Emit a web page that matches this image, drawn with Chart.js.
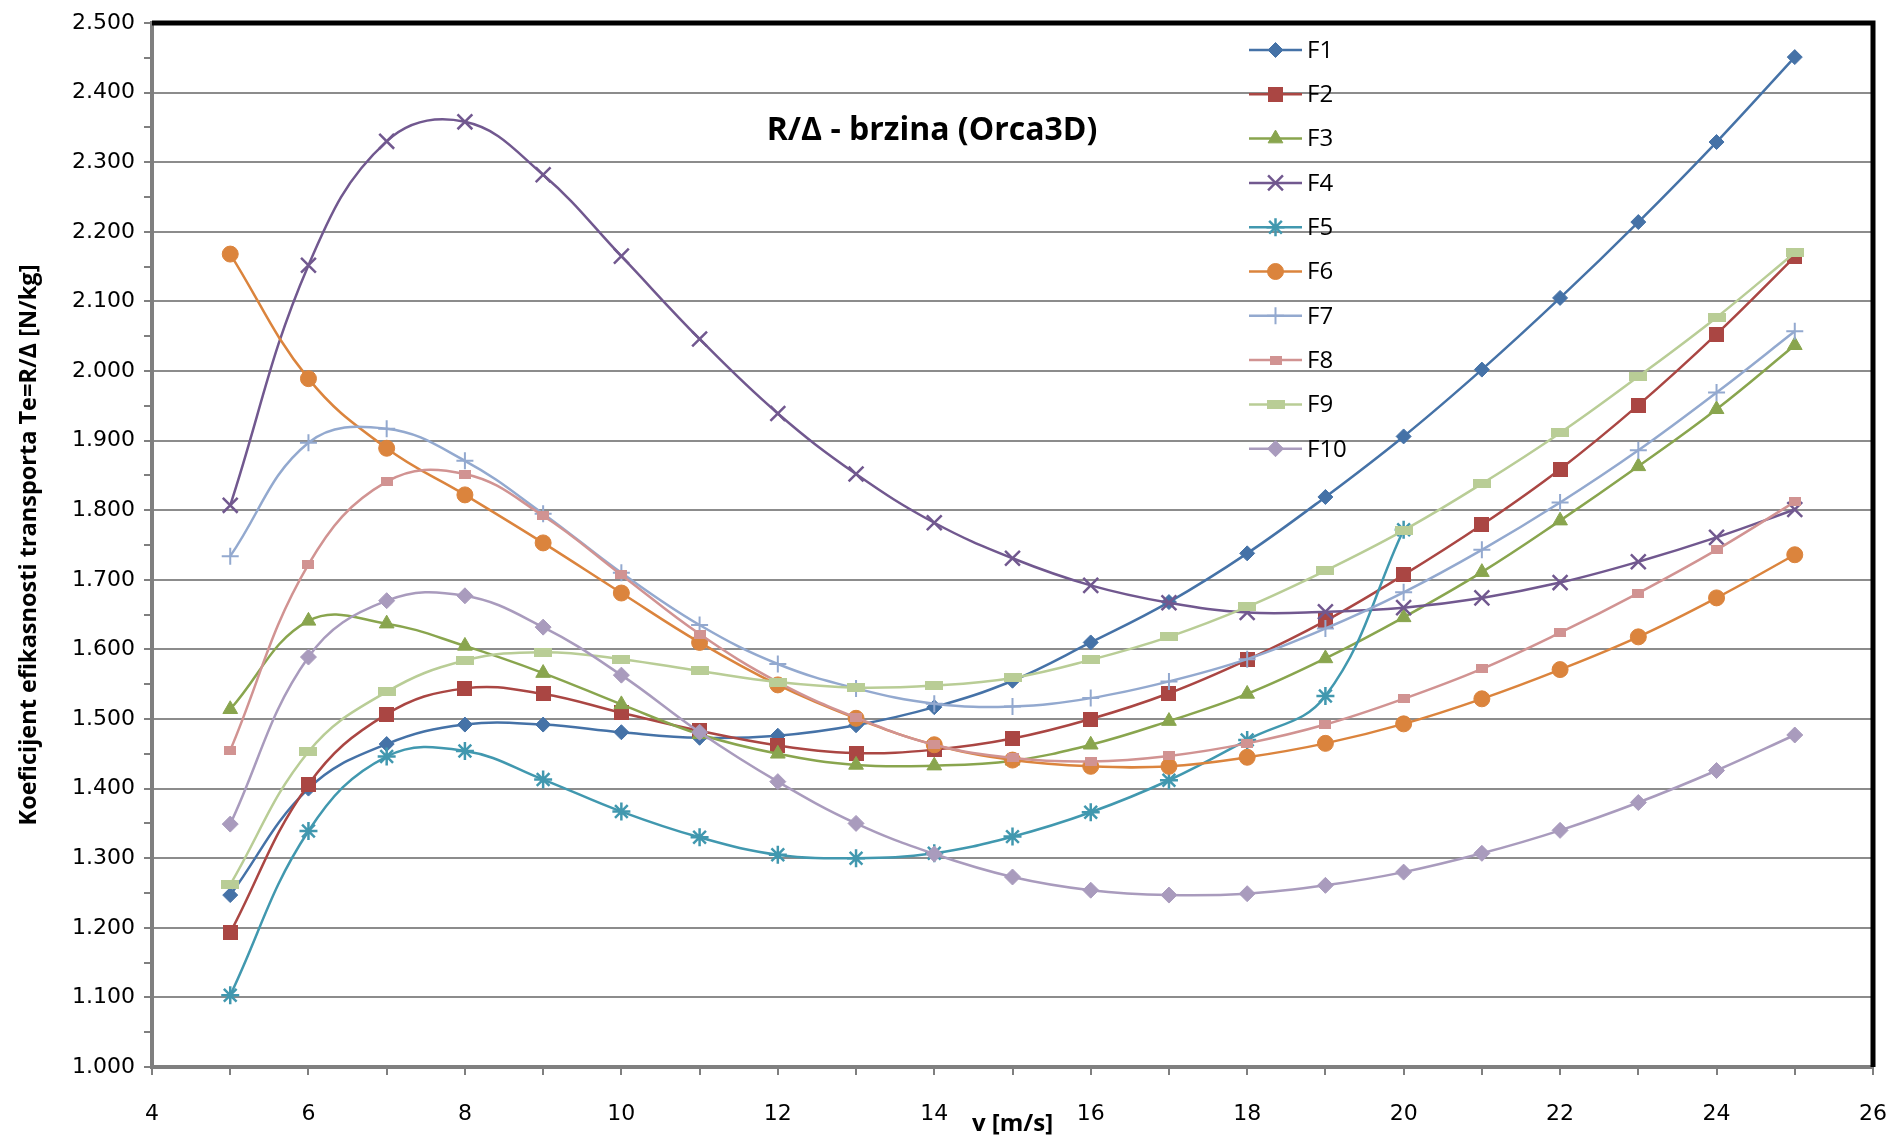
<!DOCTYPE html>
<html>
<head>
<meta charset="utf-8">
<title>R/Δ - brzina (Orca3D)</title>
<script src="https://cdn.jsdelivr.net/npm/chart.js@4.4.1/dist/chart.umd.min.js"></script>
<style>
  html, body { margin: 0; padding: 0; background: #fff; }
  #wrap { width: 1892px; height: 1141px; }
</style>
</head>
<body>
<div id="wrap"><canvas id="chart" width="1892" height="1141"></canvas></div>
<script>
// speed [m/s]
const speeds = [5, 6, 7, 8, 9, 10, 11, 12, 13, 14, 15, 16, 17, 18, 19, 20, 21, 22, 23, 24, 25];

// R/Δ [N/kg] per hull form
const f1  = [1.247, 1.400, 1.464, 1.492, 1.492, 1.481, 1.473, 1.476, 1.491, 1.517, 1.555, 1.610, 1.668, 1.738, 1.819, 1.906, 2.002, 2.105, 2.214, 2.329, 2.451];
const f2  = [1.193, 1.406, 1.507, 1.544, 1.536, 1.509, 1.483, 1.462, 1.451, 1.456, 1.472, 1.500, 1.537, 1.585, 1.641, 1.707, 1.779, 1.859, 1.951, 2.053, 2.164];
const f3  = [1.514, 1.641, 1.637, 1.605, 1.566, 1.521, 1.478, 1.450, 1.434, 1.433, 1.440, 1.463, 1.497, 1.536, 1.587, 1.646, 1.711, 1.785, 1.863, 1.945, 2.037];
const f4  = [1.807, 2.152, 2.330, 2.358, 2.282, 2.165, 2.046, 1.939, 1.852, 1.782, 1.731, 1.692, 1.667, 1.653, 1.654, 1.660, 1.674, 1.696, 1.726, 1.761, 1.801];
const f5  = [1.103, 1.339, 1.446, 1.454, 1.413, 1.367, 1.330, 1.305, 1.300, 1.307, 1.331, 1.366, 1.412, 1.470, 1.533, 1.772];
const f6  = [2.168, 1.989, 1.889, 1.822, 1.753, 1.681, 1.610, 1.549, 1.501, 1.463, 1.441, 1.432, 1.432, 1.445, 1.465, 1.493, 1.529, 1.571, 1.618, 1.674, 1.736];
const f7  = [1.734, 1.897, 1.917, 1.871, 1.795, 1.710, 1.635, 1.579, 1.544, 1.522, 1.518, 1.530, 1.554, 1.586, 1.630, 1.682, 1.743, 1.811, 1.886, 1.969, 2.057];
const f8  = [1.455, 1.722, 1.841, 1.852, 1.792, 1.707, 1.622, 1.553, 1.502, 1.463, 1.444, 1.439, 1.447, 1.465, 1.492, 1.529, 1.572, 1.624, 1.681, 1.743, 1.812];
const f9  = [1.262, 1.453, 1.539, 1.584, 1.596, 1.586, 1.569, 1.553, 1.545, 1.548, 1.559, 1.585, 1.618, 1.661, 1.713, 1.771, 1.838, 1.911, 1.992, 2.077, 2.170];
const f10 = [1.349, 1.589, 1.670, 1.677, 1.632, 1.563, 1.481, 1.410, 1.350, 1.306, 1.273, 1.254, 1.247, 1.249, 1.261, 1.280, 1.307, 1.340, 1.380, 1.426, 1.477];

const seriesNames = ['F1', 'F2', 'F3', 'F4', 'F5', 'F6', 'F7', 'F8', 'F9', 'F10'];
const seriesValues = [f1, f2, f3, f4, f5, f6, f7, f8, f9, f10];
const colors = ['#4572A7', '#AA4643', '#89A54E', '#71588F', '#4198AF',
                '#DB843D', '#93A9CF', '#D19392', '#B9CD96', '#A99BBD'];

const chartTitle = 'R/Δ - brzina (Orca3D)';
const xTitle = 'v [m/s]';
const yTitle = 'Koeficijent efikasnosti transporta Te=R/Δ [N/kg]';

// rectangle markers (Excel squares / flat bars)
function boxMarker(w, h, color) {
  const c = document.createElement('canvas');
  c.width = w; c.height = h;
  const g = c.getContext('2d');
  g.fillStyle = color;
  g.fillRect(0, 0, w, h);
  return c;
}

const markers = [
  { style: 'rectRot', r: 7.5, bw: 1 },
  { style: boxMarker(15, 15, colors[1]), r: 8, bw: 0 },
  { style: 'triangle', r: 8.5, bw: 1 },
  { style: 'crossRot', r: 10.5, bw: 2.5 },
  { style: 'star', r: 9, bw: 2.5 },
  { style: 'circle', r: 8, bw: 1 },
  { style: 'cross', r: 8.5, bw: 2 },
  { style: boxMarker(12, 9, colors[7]), r: 6, bw: 0 },
  { style: boxMarker(18, 9, colors[8]), r: 6, bw: 0 },
  { style: 'rectRot', r: 8, bw: 1 }
];

const datasets = seriesValues.map((vals, i) => ({
  label: seriesNames[i],
  data: vals.map((v, k) => ({ x: speeds[k], y: v })),
  borderColor: colors[i],
  backgroundColor: colors[i],
  borderWidth: 2.5,
  tension: 0.4,
  pointStyle: markers[i].style,
  pointRadius: markers[i].r,
  pointHoverRadius: markers[i].r,
  pointBorderWidth: markers[i].bw,
  pointBackgroundColor: colors[i],
  pointBorderColor: colors[i],
  order: -i
}));

const isMajor = v => Math.abs(Math.round(v * 10) - v * 10) < 1e-6;

// title inside the plot, legend at the right, black frame on top/right
const decorations = {
  id: 'decorations',
  afterDraw(chart) {
    const { ctx, chartArea } = chart;
    ctx.save();

    ctx.strokeStyle = '#000';
    ctx.lineWidth = 5;
    ctx.beginPath();
    ctx.moveTo(chartArea.left, chartArea.top);
    ctx.lineTo(chartArea.right, chartArea.top);
    ctx.lineTo(chartArea.right, chartArea.bottom);
    ctx.stroke();

    ctx.fillStyle = '#000';
    ctx.font = 'bold 32px "Open Sans"';
    ctx.textAlign = 'center';
    ctx.textBaseline = 'middle';
    ctx.fillText(chartTitle, 932, 131);

    ctx.font = '24px "Open Sans"';
    ctx.textAlign = 'left';
    chart.data.datasets.forEach((ds, i) => {
      const y = 50 + i * 44.3;
      ctx.strokeStyle = ds.borderColor;
      ctx.lineWidth = 2.5;
      ctx.beginPath();
      ctx.moveTo(1249, y);
      ctx.lineTo(1302, y);
      ctx.stroke();
      ctx.fillStyle = ds.backgroundColor;
      ctx.lineWidth = ds.pointBorderWidth;
      Chart.helpers.drawPoint(ctx, {
        pointStyle: ds.pointStyle, radius: ds.pointRadius,
        borderWidth: ds.pointBorderWidth, rotation: 0
      }, 1275.5, y);
      ctx.fillStyle = '#000';
      ctx.fillText(ds.label, 1307, y + 1);
    });
    ctx.restore();
  }
};

new Chart(document.getElementById('chart'), {
  type: 'line',
  data: { datasets },
  plugins: [decorations],
  options: {
    responsive: false,
    animation: false,
    layout: { padding: { top: 23, right: 19, left: 0, bottom: 0 } },
    plugins: {
      legend: { display: false },
      title: { display: false },
      tooltip: { enabled: false }
    },
    scales: {
      x: {
        type: 'linear',
        min: 4,
        max: 26,
        afterFit: s => { s.height = 74; s.paddingLeft = 0; s.paddingRight = 0; },
        ticks: {
          stepSize: 1,
          autoSkip: false,
          maxRotation: 0,
          padding: 26,
          color: '#000',
          font: { family: 'DejaVu Sans', size: 22 },
          callback: v => (v % 2 === 0 ? v : '')
        },
        grid: { drawOnChartArea: false, color: '#7f7f7f', lineWidth: 2, tickLength: 8 },
        border: { color: '#7f7f7f', width: 4 },
        title: {
          display: true,
          text: xTitle,
          color: '#000',
          font: { family: 'Open Sans', size: 24, weight: 'bold' },
          padding: { top: 0, bottom: 2 }
        }
      },
      y: {
        min: 1,
        max: 2.5,
        afterFit: s => { s.width = 152; },
        ticks: {
          stepSize: 0.05,
          autoSkip: false,
          padding: 9,
          color: '#000',
          font: { family: 'DejaVu Sans', size: 22 },
          callback: v => (isMajor(v) ? v.toFixed(3) : '')
        },
        grid: {
          color: c => (isMajor(c.tick.value) ? '#8c8c8c' : 'rgba(0,0,0,0)'),
          tickColor: '#7f7f7f',
          lineWidth: 2,
          tickLength: 8
        },
        border: { color: '#7f7f7f', width: 4 },
        title: {
          display: true,
          text: yTitle,
          color: '#000',
          font: { family: 'Open Sans', size: 23.5, weight: 'bold' },
          padding: { top: 15, bottom: 0 }
        }
      }
    }
  }
});
</script>
</body>
</html>
